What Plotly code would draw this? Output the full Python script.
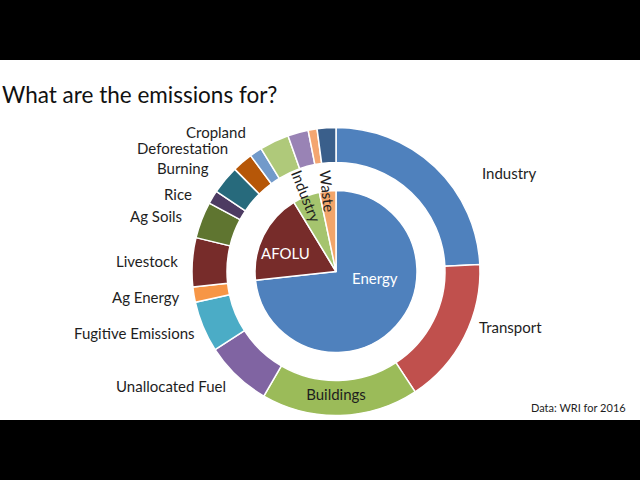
import math
import plotly.graph_objects as go

# ---- data ----
sectors = ["Energy", "AFOLU", "Industry", "Waste"]
sector_values = [73.3, 18.0, 5.4, 3.3]
sector_colors = ["#4F81BD", "#772C2A", "#A5C46E", "#F2A56A"]

sub_labels = ["Industry", "Transport", "Buildings", "Unallocated Fuel",
              "Fugitive Emissions", "Ag Energy", "Livestock", "Ag Soils",
              "Rice", "Burning", "Deforestation", "Cropland",
              "Cement", "Chemicals", "Wastewater", "Landfills"]
sub_values = [24.2, 16.5, 17.6, 7.5, 5.7, 1.7, 5.5, 4.1,
              1.5, 3.2, 2.3, 1.4, 3.3, 2.3, 1.0, 2.1]
sub_colors = ["#4F81BD", "#C0504D", "#9BBB59", "#8064A2", "#4BACC6",
              "#F79646", "#772C2A", "#5F7530", "#4D3B62", "#276A7C",
              "#B65708", "#729ACA", "#AFC97A", "#9983B5", "#F4A671",
              "#3A5F8B"]
sub_shown = [True] * 12 + [False] * 4

title_text = "What are the emissions for?"
source_text = "Data: WRI for 2016"

# ---- layout geometry / styling ----
W, H = 640, 480
cx, cy = 336, 271.5
R_out, R_in_pie = 144, 81
hole = 109 / 144
FONT = "Lato"
TXT = "#1E1E1E"
LABEL_R = 157
# label placement overrides: (angle deg clockwise from top, radius px)
outer_override = {"Industry": (55.8, 175), "Transport": (111.3, 152.5),
                  "Unallocated Fuel": (223.4, 158),
                  "Fugitive Emissions": (246.5, 153),
                  "Ag Soils": (289.9, 163),
                  "Rice": (298.4, 163), "Burning": (309.2, 163),
                  "Deforestation": (319.1, 163), "Cropland": (327.5, 165)}
inner_override = {"Energy": (99.5, 39.5), "AFOLU": (290.0, 54)}


def dom(r):
    return dict(x=[(cx - r) / W, (cx + r) / W],
                y=[(H - cy - r) / H, (H - cy + r) / H])


def to_paper(theta_deg, r):
    th = math.radians(theta_deg)
    return (cx + r * math.sin(th)) / W, (H - cy + r * math.cos(th)) / H


def mid_angles(values):
    tot = sum(values)
    out, cum = [], 0
    for v in values:
        out.append((cum + v / 2) / tot * 360)
        cum += v
    return out


sub_text = ["Buildings" if l == "Buildings" else "" for l in sub_labels]
sub_pos = ["inside" if l == "Buildings" else "none" for l in sub_labels]

fig = go.Figure()
fig.add_trace(go.Pie(
    labels=sub_labels, values=sub_values, text=sub_text,
    textinfo="text", textposition=sub_pos, sort=False,
    direction="clockwise", rotation=0, hole=hole,
    marker=dict(colors=sub_colors, line=dict(color="white", width=1.5)),
    textfont=dict(family=FONT, size=15, color=TXT),
    insidetextorientation="horizontal",
    domain=dom(R_out), showlegend=False, hoverinfo="label+value",
))
fig.add_trace(go.Pie(
    labels=sectors, values=sector_values, textinfo="none", sort=False,
    direction="clockwise", rotation=0,
    marker=dict(colors=sector_colors, line=dict(color="white", width=1.5)),
    domain=dom(R_in_pie), showlegend=False, hoverinfo="label+value",
))

annotations = []
# outer ring labels (outside, no leader lines)
for lab, shown, mid in zip(sub_labels, sub_shown, mid_angles(sub_values)):
    if not shown or lab == "Buildings":
        continue
    ang, r = outer_override.get(lab, (mid, LABEL_R))
    x, y = to_paper(ang, r)
    annotations.append(dict(
        text=lab, x=x, y=y, xref="paper", yref="paper", showarrow=False,
        xanchor="left" if ang < 180 else "right", yanchor="middle",
        borderpad=0, font=dict(family=FONT, size=15, color=TXT)))

# inner pie labels
for s, mid in zip(sectors, mid_angles(sector_values)):
    if s in inner_override:
        ang, r = inner_override[s]
        x, y = to_paper(ang, r)
        annotations.append(dict(
            text=s, x=x, y=y, xref="paper", yref="paper", showarrow=False,
            xanchor="center", yanchor="middle",
            font=dict(family=FONT, size=15, color="white")))
    else:
        x, y = to_paper(mid, R_in_pie)
        annotations.append(dict(
            text=s, x=x, y=y, xref="paper", yref="paper", showarrow=False,
            xanchor="center", yanchor="middle", textangle=mid - 270,
            font=dict(family=FONT, size=15, color=TXT)))

annotations.append(dict(text=title_text, x=0, y=(H - 95) / H,
                        xref="paper", yref="paper", showarrow=False,
                        xanchor="left", yanchor="middle",
                        font=dict(family=FONT, size=22.5, color="#111111")))
annotations.append(dict(text=source_text, x=627 / W, y=(H - 407) / H,
                        xref="paper", yref="paper", showarrow=False,
                        xanchor="right", yanchor="middle", borderpad=0,
                        font=dict(family=FONT, size=11, color=TXT)))

fig.update_layout(
    width=W, height=H, margin=dict(l=0, r=0, t=0, b=0),
    paper_bgcolor="black",
    shapes=[dict(type="rect", xref="paper", yref="paper", x0=0, x1=1,
                 y0=60 / H, y1=420 / H, fillcolor="white",
                 line=dict(width=0), layer="below")],
    annotations=annotations,
)

fig.write_html("out.html")
